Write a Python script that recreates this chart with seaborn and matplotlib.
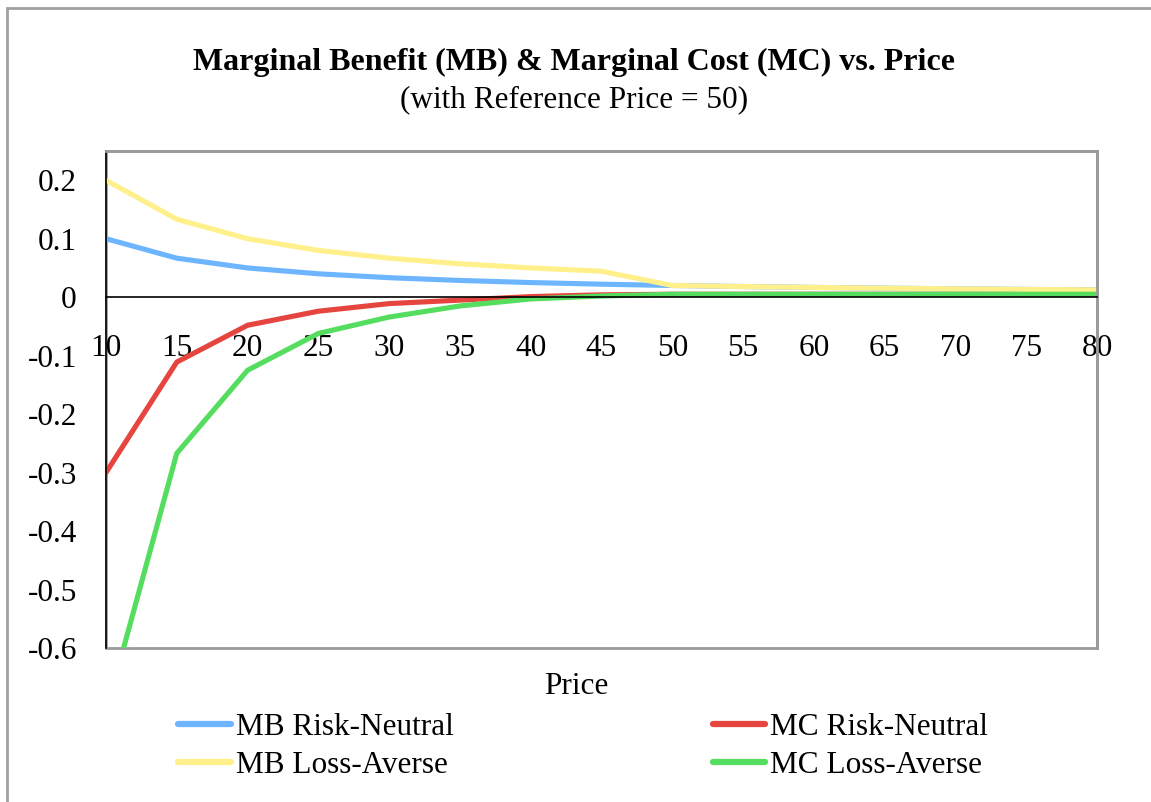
import matplotlib
matplotlib.use("Agg")
import matplotlib.pyplot as plt
from matplotlib.patches import Rectangle
import numpy as np
import pandas as pd
import seaborn as sns

# Prices (x categories) and the four curves
prices = [10, 15, 20, 25, 30, 35, 40, 45, 50, 55, 60, 65, 70, 75, 80]
mb_risk_neutral = [0.1, 0.0667, 0.05, 0.04, 0.0333, 0.0286, 0.025, 0.0222, 0.02,
                   0.0182, 0.0167, 0.0154, 0.0143, 0.0133, 0.0125]
mc_risk_neutral = [-0.3, -0.111, -0.048, -0.024, -0.011, -0.005, 0.001, 0.004, 0.005,
                   0.005, 0.005, 0.005, 0.005, 0.005, 0.005]
mb_loss_averse = [0.2, 0.1333, 0.1, 0.08, 0.0667, 0.0571, 0.05, 0.0444, 0.02,
                  0.0182, 0.0167, 0.0154, 0.0143, 0.0133, 0.0125]
mc_loss_averse = [-0.71, -0.267, -0.125, -0.062, -0.034, -0.015, -0.003, 0.002, 0.005,
                  0.005, 0.005, 0.005, 0.005, 0.005, 0.005]

series_names = ["MB Risk-Neutral", "MC Risk-Neutral", "MB Loss-Averse", "MC Loss-Averse"]
series_values = [mb_risk_neutral, mc_risk_neutral, mb_loss_averse, mc_loss_averse]
palette = {
    "MB Risk-Neutral": "#6DB6FF",
    "MC Risk-Neutral": "#E5443F",
    "MB Loss-Averse": "#FFF08C",
    "MC Loss-Averse": "#55DD5F",
}

df = pd.concat(
    [pd.DataFrame({"Price": prices, "Value": vals, "Series": name})
     for name, vals in zip(series_names, series_values)],
    ignore_index=True,
)

sns.set_style("white")
plt.rcParams["font.family"] = ["Liberation Serif", "DejaVu Serif"]
plt.rcParams["text.color"] = "black"
plt.rcParams["xtick.color"] = "black"
plt.rcParams["ytick.color"] = "black"

fig = plt.figure(figsize=(11.51, 8.02), dpi=100)
ax = fig.add_axes([106 / 1151, 1 - 648 / 802, (1097 - 106) / 1151, (648 - 151) / 802])

sns.lineplot(data=df, x="Price", y="Value", hue="Series", hue_order=series_names,
             palette=palette, linewidth=3.7, ax=ax, legend=False, sort=False)

ax.set_xlim(10, 80)
ax.set_ylim(-0.6, 0.25)
ax.set_xticks(prices)
ax.set_xticklabels([str(p) for p in prices])
ax.set_yticks(np.round(np.arange(-0.6, 0.21, 0.1), 1))
ax.set_yticklabels(["-0.6", "-0.5", "-0.4", "-0.3", "-0.2", "-0.1", "0", "0.1", "0.2"])

# zero line carries the x axis; the frame around the plot area is grey
ax.spines["bottom"].set_position(("data", 0))
ax.spines["bottom"].set_color("black")
ax.spines["bottom"].set_linewidth(1.2)
ax.spines["left"].set_color("black")
ax.spines["left"].set_linewidth(1.2)
for side in ("top", "right"):
    ax.spines[side].set_color("#9a9a9a")
    ax.spines[side].set_linewidth(2)
ax.add_patch(Rectangle((0, 0), 1, 1, transform=ax.transAxes, fill=False,
                       edgecolor="#9a9a9a", linewidth=2, zorder=0.5, clip_on=False))

ax.tick_params(axis="x", direction="out", length=6, width=1, pad=20.5,
               labelsize=22.5, colors="black")
ax.tick_params(axis="y", direction="out", length=7, width=1, pad=14,
               labelsize=22.5, colors="black")
ax.set_xlabel("")
ax.set_ylabel("")

fig.text(576 / 1151, 1 - 686 / 802, "Price", ha="center", va="center", fontsize=22.5)

fig.text(574 / 1151, 1 - 62 / 802,
         "Marginal Benefit (MB) & Marginal Cost (MC) vs. Price",
         ha="center", va="center", fontsize=23, fontweight="bold")
fig.text(574 / 1151, 1 - 100 / 802, "(with Reference Price = 50)",
         ha="center", va="center", fontsize=22.5)

# outer chart border
fig.patches.append(Rectangle((7 / 1151, -0.1), 1.2, 1 - 8 / 802 + 0.1,
                             transform=fig.transFigure, fill=False,
                             edgecolor="#a0a0a0", linewidth=2))

handles = [plt.Line2D([], [], color=palette[n], linewidth=4.5, solid_capstyle="round")
           for n in series_names]
order = [0, 2, 1, 3]
fig.legend([handles[i] for i in order], [series_names[i] for i in order],
           ncol=2, loc="upper left", bbox_to_anchor=(178 / 1151, 1 - 713 / 802),
           frameon=False, fontsize=22.5, handlelength=1.68, handletextpad=0.16,
           columnspacing=8.3, labelspacing=0.3, borderaxespad=0, borderpad=0)

fig.savefig("out.png", dpi=100, facecolor="white")
